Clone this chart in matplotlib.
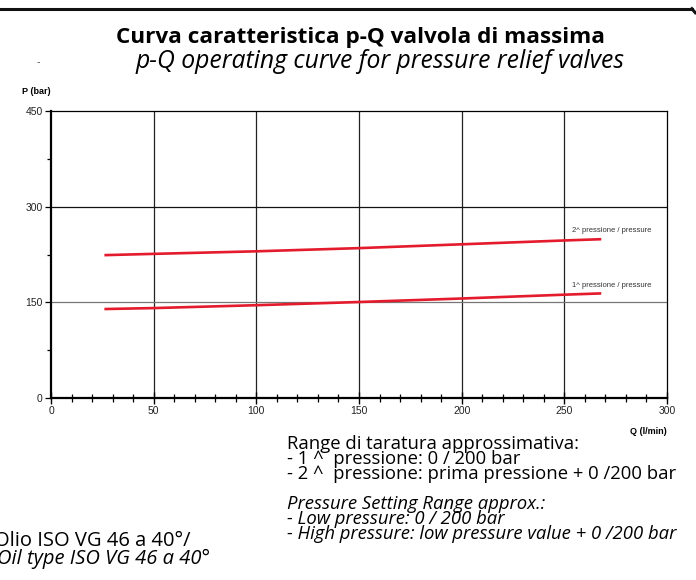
import matplotlib
matplotlib.use("Agg")
import matplotlib.pyplot as plt
from matplotlib.ticker import MultipleLocator

# portata Q (l/min) e pressioni
q = [26, 50, 100, 150, 200, 250, 268]
p_low = [139.5, 141, 145.5, 150.5, 156, 162, 164]
p_high = [224, 226, 230, 235, 241, 247, 249]

x_ticks = [0, 50, 100, 150, 200, 250, 300]
y_ticks = [0, 150, 300, 450]

RED = "#e31b2c"
TITLE_FONT = "Open Sans"
TICK_FONT = "Liberation Sans"
W, H = 696, 580

fig = plt.figure(figsize=(6.96, 5.8), dpi=100)


def px(x, y):
    # da pixel (alto-sinistra) a coordinate della figura
    return x / W, 1 - y / H


# bordo superiore
fig.add_artist(plt.Line2D([0, 0.994], [0.985, 0.985], color="#111111", lw=2.2,
                          transform=fig.transFigure))
fig.add_artist(plt.Line2D([0.994, 0.999], [0.985, 0.978], color="#111111", lw=2.2,
                          transform=fig.transFigure))

ax = fig.add_axes([0.0733, 0.3138, 0.885, 0.4948])

ax.plot(q, p_high, color=RED, lw=1.9, solid_capstyle="butt")
ax.plot(q, p_low, color=RED, lw=1.9, solid_capstyle="butt")

ax.set_xlim(0, 300)
ax.set_ylim(0, 450)
ax.set_xticks(x_ticks)
ax.set_yticks(y_ticks)
ax.xaxis.set_minor_locator(MultipleLocator(10))
ax.yaxis.set_minor_locator(MultipleLocator(75))

# griglia
for x in x_ticks[1:-1]:
    ax.axvline(x, color="#222222", lw=0.9, zorder=0)
ax.axhline(300, color="#111111", lw=0.9, zorder=0)
ax.axhline(150, color="#777777", lw=0.9, zorder=0)

for side in ["top", "right"]:
    ax.spines[side].set_linewidth(0.9)
for side in ["left", "bottom"]:
    ax.spines[side].set_linewidth(1.6)

ax.tick_params(axis="x", which="major", direction="inout", length=8, width=1.0,
               pad=2, labelsize=7.5)
ax.tick_params(axis="x", which="minor", direction="inout", length=6, width=0.9)
ax.tick_params(axis="y", which="major", direction="out", length=4, width=0.9,
               pad=2, labelsize=7.5)
ax.tick_params(axis="y", which="minor", direction="out", length=3, width=0.9)
for lab in ax.get_xticklabels() + ax.get_yticklabels():
    lab.set_fontfamily(TICK_FONT)
    lab.set_color("#222222")

ax.text(253.5, 262, "2^ pressione / pressure", fontsize=5.5, family=TICK_FONT,
        color="#333333", va="center")
ax.text(253.5, 177, "1^ pressione / pressure", fontsize=5.5, family=TICK_FONT,
        color="#333333", va="center")

# titoli
fig.text(*px(361, 37), "Curva caratteristica p-Q valvola di massima", ha="center",
         va="center", fontsize=16.2, fontweight="bold", family=TITLE_FONT)
fig.text(*px(380, 61), "p-Q operating curve for pressure relief valves", ha="center",
         va="center", fontsize=17.8, style="italic", family=TITLE_FONT)
fig.text(*px(38, 62), "-", ha="center", va="center", fontsize=7, color="#555555")

fig.text(*px(22, 91), "P (bar)", ha="left", va="center", fontsize=6.5,
         fontweight="bold", family=TICK_FONT)
fig.text(*px(667, 431), "Q (l/min)", ha="right", va="center", fontsize=6.5,
         fontweight="bold", family=TICK_FONT)

# note in basso
note_it = ["Range di taratura approssimativa:",
           "- 1 ^  pressione: 0 / 200 bar",
           "- 2 ^  pressione: prima pressione + 0 /200 bar"]
note_en = ["Pressure Setting Range approx.:",
           "- Low pressure: 0 / 200 bar",
           "- High pressure: low pressure value + 0 /200 bar"]
oil = ["Olio ISO VG 46 a 40°/", "Oil type ISO VG 46 a 40°"]

fig.text(*px(287, 435), "\n".join(note_it), ha="left", va="top",
         fontsize=13.3, family=TITLE_FONT, linespacing=0.8)
fig.text(*px(287, 495), "\n".join(note_en), ha="left", va="top",
         fontsize=13.3, style="italic", family=TITLE_FONT, linespacing=0.8)
fig.text(*px(190, 540.5), oil[0], ha="right", va="center",
         fontsize=14.5, family=TITLE_FONT)
fig.text(*px(210, 558.5), oil[1], ha="right", va="center",
         fontsize=14.5, family=TITLE_FONT, style="italic")

fig.savefig("out.png", dpi=100)
